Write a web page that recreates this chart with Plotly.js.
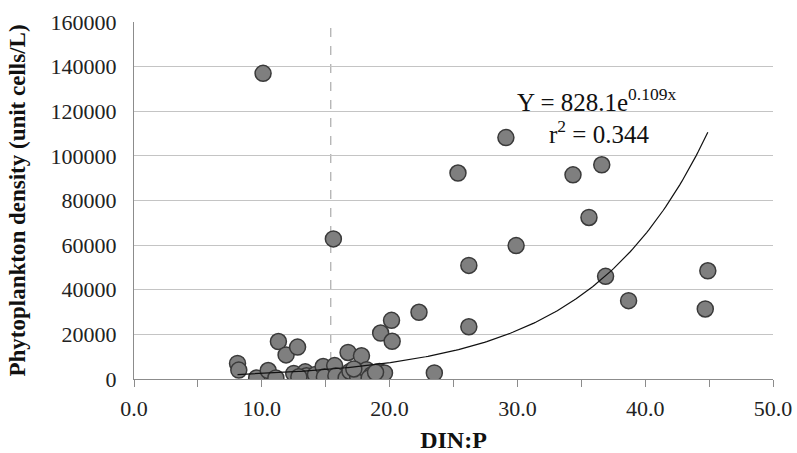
<!DOCTYPE html>
<html>
<head>
<meta charset="utf-8">
<script src="https://cdn.plot.ly/plotly-3.0.1.min.js"></script>
<style>html,body{margin:0;padding:0;background:#fff;}#chart{width:797px;height:453px;}</style>
</head>
<body>
<div id="chart"></div>
<script>
// DIN:P ratio (x) and phytoplankton density (y, unit cells/L)
const dinP = [8.1, 8.2, 9.6, 10.5, 11.1, 11.3, 11.9, 12.5, 12.8, 13.4, 13.5, 14.2, 14.8, 14.9,
  15.7, 15.8, 16.6, 16.75, 16.9, 17.5, 17.8, 18.2, 18.6, 18.4, 19.2, 19.3, 19.6, 20.15, 20.2,
  22.3, 23.5, 10.1, 15.6, 25.35, 29.1, 34.35, 36.6, 35.6, 29.9, 26.2, 36.9, 38.7, 44.9, 44.7,
  26.2, 12.9, 17.2, 18.9];
const density = [7000, 4000, 500, 3800, 500, 16800, 10800, 2500, 14300, 3200, 1500, 2000, 5600, 1000,
  6000, 1500, 500, 11900, 3400, 1200, 10400, 4200, 1900, 500, 3400, 20600, 2700, 26300, 16900,
  29900, 2700, 137000, 62800, 92300, 108200, 91500, 96000, 72400, 59800, 50900, 46000, 35100, 48500, 31400,
  23400, 1000, 4500, 3000];
// exponential trendline Y = A e^(B x)
const trendA = 828.1;
const trendB = 0.109;
const refLineX = 15.4;

const xMin = Math.min(...dinP), xMax = Math.max(...dinP);
const tx = [], ty = [];
for (let i = 0; i <= 200; i++) {
  const x = xMin + (xMax - xMin) * i / 200;
  tx.push(x); ty.push(trendA * Math.exp(trendB * x));
}

const serif = "'Liberation Serif', 'Times New Roman', serif";
const traces = [
  {x: dinP, y: density, type: 'scatter', mode: 'markers',
   marker: {size: 16, color: '#7f7f7f', line: {color: '#3a3a3a', width: 1.5}}, hoverinfo: 'x+y'},
  {x: tx, y: ty, type: 'scatter', mode: 'lines', line: {color: '#111', width: 1.2}, hoverinfo: 'skip'}
];
const layout = {
  width: 797, height: 453,
  margin: {l: 134, r: 24, t: 22, b: 74},
  paper_bgcolor: '#fff', plot_bgcolor: '#fff',
  showlegend: false,
  font: {family: serif, size: 21, color: '#222'},
  xaxis: {range: [0, 50], tick0: 0, dtick: 10, tickformat: '.1f', ticks: 'outside', ticklen: 7,
    tickcolor: '#8c8c8c', ticklabelstandoff: 3,
    minor: {dtick: 5, ticks: 'outside', ticklen: 7, tickcolor: '#8c8c8c', showgrid: false},
    showline: true, linecolor: '#8c8c8c', linewidth: 1, showgrid: false, zeroline: false,
    tickfont: {family: serif, size: 22, color: '#222'},
    title: {text: '<b>DIN:P</b>', font: {family: serif, size: 24, color: '#111'}, standoff: 10}},
  yaxis: {range: [0, 160000], tick0: 0, dtick: 20000, tickformat: 'd', ticks: '', showline: true,
    linecolor: '#8c8c8c', linewidth: 1,
    showgrid: true, gridcolor: '#c4c4c4', gridwidth: 1, zeroline: false, ticklabelstandoff: 12,
    tickfont: {family: serif, size: 22, color: '#222'},
    title: {text: '<b>Phytoplankton density (unit cells/L)</b>', font: {family: serif, size: 23, color: '#111'}, standoff: 18}},
  shapes: [{type: 'line', xref: 'x', yref: 'paper', x0: refLineX, x1: refLineX, y0: 0, y1: 1,
    line: {color: '#999', width: 1, dash: 'dash'}, layer: 'below'}],
  annotations: [
    {xref: 'x', yref: 'y', x: 29.8, y: 125000, xanchor: 'left', yanchor: 'middle', showarrow: false,
     text: 'Y = 828.1e<sup>0.109x</sup>', font: {family: serif, size: 25, color: '#111'}},
    {xref: 'x', yref: 'y', x: 32.3, y: 110500, xanchor: 'left', yanchor: 'middle', showarrow: false,
     text: 'r<sup>2</sup> = 0.344', font: {family: serif, size: 25, color: '#111'}}
  ]
};
Plotly.newPlot('chart', traces, layout, {displayModeBar: false, staticPlot: true});
</script>
</body>
</html>
